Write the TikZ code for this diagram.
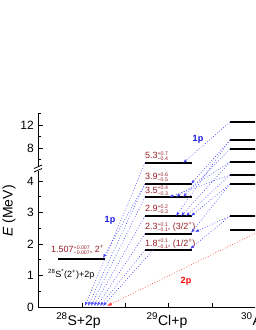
\documentclass[tikz,border=0pt]{standalone}
\usepackage{fontspec}
\setmainfont{Liberation Sans}
\usetikzlibrary{arrows.meta}
\definecolor{lvlred}{RGB}{150,30,40}
\definecolor{lblue}{RGB}{70,70,255}
\definecolor{tblue}{RGB}{20,20,225}
\definecolor{lred}{RGB}{255,60,60}
\newcommand\updn[2]{\rlap{\raisebox{3.2pt}{\fontsize{5.2}{5.2}\selectfont#1}}\raisebox{-2.0pt}{\fontsize{5.2}{5.2}\selectfont#2}}
\begin{document}
\begin{tikzpicture}[x=1pt,y=-1pt,
  axis/.style={line width=0.8pt},
  lvl/.style={line width=1.7pt},
  bdot/.style={draw=lblue,line width=0.6pt,dash pattern=on 0.8pt off 1.9pt,-{Latex[length=4pt,width=3pt]}},
  rdot/.style={draw=lred,line width=0.6pt,dash pattern=on 0.8pt off 1.9pt,-{Latex[length=5pt,width=3.5pt]}},
  elab/.style={text=lvlred,font=\fontsize{9}{9}\selectfont,anchor=base west,inner sep=0pt},
  ticklab/.style={font=\fontsize{12}{12}\selectfont,anchor=east,inner sep=0pt},
  xlab/.style={font=\fontsize{14}{14}\selectfont,anchor=base,inner sep=0pt},
  plab/.style={font=\fontsize{9}{9}\selectfont\bfseries,inner sep=0pt},
]
\useasboundingbox (0,0) rectangle (255,330);
\clip (0,0) rectangle (255,330);

% axes
\coordinate (ytop) at (38,113);
\coordinate (orig) at (38,307);
\coordinate (xend) at (260,307);
\draw[axis] (ytop) -- (orig) -- (xend);
\fill[white] (36,166.5) rectangle (40,170.5);
\draw[axis] (34,168.5) -- (42,165) (34,172) -- (42,168.5);

% y ticks
\foreach \v in {0,1,2,3,4} \draw[axis] (38,{307-31.5*\v}) -- ++(5,0);
\foreach \v in {0.5,1.5,2.5,3.5} \draw[axis] (38,{307-31.5*\v}) -- ++(3,0);
\foreach \v in {8,12} \draw[axis] (38,{148-5.75*(\v-8)}) -- ++(5,0);
\foreach \v in {6,10,14} \draw[axis] (38,{148-5.75*(\v-8)}) -- ++(3,0);
\foreach \v in {0,1,2,3,4} \node[ticklab] (t\v) at (34,{307-31.5*\v}) {\v};
\node[ticklab] (t8) at (34,148) {8};
\node[ticklab] (t12) at (34,125) {12};
\node[rotate=90,font=\fontsize{14}{14}\selectfont] (ylab) at (9,211) {\textit{E} (MeV)};

% x ticks and labels
\foreach \x in {82,125,168,212} \draw[axis] (\x,307) -- ++(0,-4);
\node[xlab] (xs) at (78.5,325) {\textsuperscript{28}S+2p};
\node[xlab] (xcl) at (167,325) {\textsuperscript{29}Cl+p};
\node[xlab,anchor=base west] (xar) at (241,325) {\textsuperscript{30}Ar};

% 28S* level
\coordinate (sL) at (58,259); \coordinate (sR) at (105,259);
\draw[lvl] (sL) -- (sR);
\node[elab] (sE) at (51,252.5) {1.507\updn{+0.007}{−0.007}, 2\textsuperscript{+}};
\node[font=\fontsize{9}{9}\selectfont,anchor=base west,inner sep=0pt] (sN) at (48,277.5) {\textsuperscript{28}S\textsuperscript{*}(2\textsuperscript{+})+2p};

% 29Cl levels
\foreach \n/\y in {a/250,b/234,c/216,d/197,e/184,f/163} {
  \coordinate (cl\n L) at (145,\y); \coordinate (cl\n R) at (192,\y);
  \draw[lvl] (cl\n L) -- (cl\n R);
}
\node[elab] (ef) at (145,158.5) {5.3\updn{+0.7}{−0.4}};
\node[elab] (ee) at (145,179.5) {3.9\updn{+0.6}{−0.5}};
\node[elab] (ed) at (145,193) {3.5\updn{+0.4}{−0.3}};
\node[elab] (ec) at (145,211.5) {2.9\updn{+0.2}{−0.3}};
\node[elab] (eb) at (145,229.5) {2.3\updn{+0.1}{−0.1}, (3/2\textsuperscript{+})};
\node[elab] (ea) at (145,246) {1.8\updn{+0.1}{−0.1}, (1/2\textsuperscript{+})};

% 30Ar levels
\foreach \n/\y in {1/122,2/140,3/149,4/162,5/175,6/184,7/216,8/230} {
  \coordinate (ar\n) at (230,\y); \coordinate (ar\n R) at (262,\y);
  \draw[lvl] (ar\n) -- (ar\n R);
}

% arrow targets on 29Cl levels
\coordinate (f1) at (183,163);
\coordinate (e1) at (191,184);
\coordinate (d1) at (169,197); \coordinate (d2) at (176,197); \coordinate (d3) at (183,197);
\coordinate (c1) at (176,216); \coordinate (c2) at (181,216); \coordinate (c3) at (186,216); \coordinate (c4) at (191,216);
\coordinate (b1) at (191,233); \coordinate (b2) at (195,232);
\coordinate (a1) at (190,249);

% 1p: 30Ar -> 29Cl
\draw[bdot] (ar1) -- (f1);
\draw[bdot] (ar2) -- (e1);
\draw[bdot] (ar3) -- (d3);
\draw[bdot] (ar4) -- (d2);
\draw[bdot] (ar5) -- (d1);
\draw[bdot] (ar2) -- (c1);
\draw[bdot] (ar4) -- (c2);
\draw[bdot] (ar5) -- (c3);
\draw[bdot] (ar6) -- (c4);
\draw[bdot] (ar6) -- (b1);
\draw[bdot] (ar7) -- (b2);
\draw[bdot] (ar7) -- (a1);

% arrow targets on 28S+2p
\coordinate (g1) at (85,306); \coordinate (g2) at (88,306); \coordinate (g3) at (91,306);
\coordinate (g4) at (94,306); \coordinate (g5) at (97,306); \coordinate (g6) at (100,306);
\coordinate (g7) at (103,306);
\coordinate (s1) at (103,258);

% 1p: 29Cl -> 28S
\draw[bdot] (clfL) -- (g1);
\draw[bdot] (cleL) -- (g2);
\draw[bdot] (cldL) -- (g3);
\draw[bdot] (clcL) -- (g4);
\draw[bdot] (clbL) -- (g5);
\draw[bdot] (claL) -- (g6);
\draw[bdot] ([xshift=8pt]claL) -- (g7);
\draw[bdot] (cleL) -- (s1);

% 2p
\coordinate (g0) at (107,306);
\draw[rdot] (ar8R) -- (g0);

% labels
\node[plab,text=tblue] (p1a) at (110,220) {1p};
\node[plab,text=tblue] (p1b) at (198,139.5) {1p};
\node[plab,text=red] (p2) at (186,281) {2p};
\end{tikzpicture}
\end{document}
